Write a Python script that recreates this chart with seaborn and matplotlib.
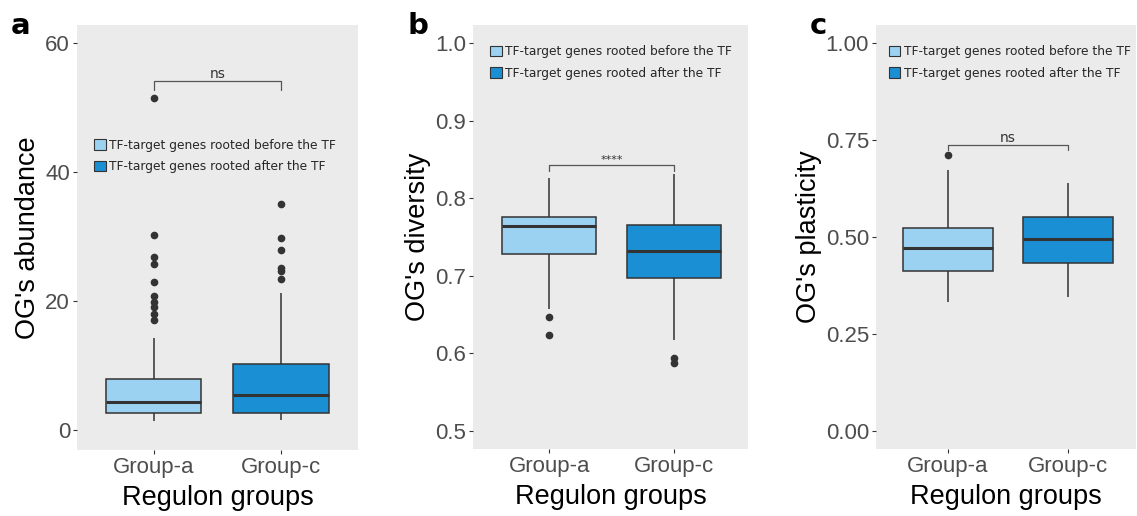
import seaborn as sns
import matplotlib.pyplot as plt
import pandas as pd

groups = ["Group-a", "Group-c"]
origins = ["TF-target genes rooted before the TF", "TF-target genes rooted after the TF"]
box_colors = ["#9CD2F1", "#1B8FD3"]

# box stats: whislo, q1, median, q3, whishi
abund_stats = [[1.4, 2.6, 4.3, 7.9, 14.2], [1.55, 2.7, 5.5, 10.2, 21.2]]
abund_out = [[51.5, 30.3, 26.8, 25.7, 22.9, 20.8, 19.8, 19.0, 18.0, 17.1],
             [35.0, 29.7, 27.9, 25.1, 24.7, 23.4]]
div_stats = [[0.658, 0.7285, 0.764, 0.776, 0.826], [0.618, 0.698, 0.732, 0.7655, 0.831]]
div_out = [[0.6465, 0.6237], [0.5937, 0.5872]]
plast_stats = [[0.332, 0.4125, 0.4725, 0.525, 0.673], [0.345, 0.434, 0.495, 0.551, 0.640]]
plast_out = [[0.711], []]

ylabels = ["OG's abundance", "OG's diversity", "OG's plasticity"]
yticks = [[0, 20, 40, 60], [0.5, 0.6, 0.7, 0.8, 0.9, 1.0], [0.0, 0.25, 0.5, 0.75, 1.0]]
yticklabels = [["0", "20", "40", "60"],
               ["0.5", "0.6", "0.7", "0.8", "0.9", "1.0"],
               ["0.00", "0.25", "0.50", "0.75", "1.00"]]
ylims = [(-3.1, 62.8), (0.4768, 1.0236), (-0.046, 1.047)]
sig_labels = ["ns", "****", "ns"]
sig_heights = [54.1, 0.843, 0.737]
sig_drop = [1.4, 0.008, 0.013]
panel_letters = ["a", "b", "c"]


def sample_from_stats(st, outs):
    # repeat the read quartiles so seaborn's boxplot reproduces them exactly
    whislo, q1, med, q3, whishi = st
    low = sorted([o for o in outs if o < q1]) + [whislo]
    high = [whishi] + sorted([o for o in outs if o > q3])
    k = len(low) + len(high) + 2
    vals = low + [q1] * (k + 1 - len(low)) + [med] * k + [q3] * k
    vals += [q3] * (k - len(high)) + high
    return vals


def build_frame(stats, outs):
    rows = []
    for g, o, st, ot in zip(groups, origins, stats, outs):
        for v in sample_from_stats(st, ot):
            rows.append({"group": g, "origin": o, "value": v})
    return pd.DataFrame(rows)


sns.set_theme(style="white")
plt.rcParams["font.family"] = ["Liberation Sans", "DejaVu Sans"]

fig = plt.figure(figsize=(11.37, 5.16), dpi=100)
positions = [[0.0677, 0.1279, 0.2471, 0.8236],
             [0.4160, 0.1298, 0.2419, 0.8217],
             [0.7705, 0.1298, 0.2287, 0.8217]]
xlims = [(-0.6, 1.6), (-0.61, 1.59), (-0.6, 1.567)]
legend_anchor = [(0.035, 0.75), (0.035, 0.97), (0.02, 0.97)]

data_sets = [(abund_stats, abund_out), (div_stats, div_out), (plast_stats, plast_out)]

for i, (stats, outs) in enumerate(data_sets):
    ax = fig.add_axes(positions[i])
    df = build_frame(stats, outs)
    sns.boxplot(data=df, x="group", y="value", hue="origin", hue_order=origins,
                order=groups, palette=box_colors, saturation=1, dodge=False, width=0.75,
                linewidth=1.1, linecolor="#333333", whis=1.5, showcaps=False,
                medianprops={"linewidth": 2.2, "color": "#333333"},
                flierprops={"marker": "o", "markersize": 4.5,
                            "markerfacecolor": "#333333", "markeredgecolor": "#333333"},
                ax=ax)
    ax.set_facecolor("#EBEBEB")
    for s in ax.spines.values():
        s.set_visible(False)
    ax.set_xlim(xlims[i])
    ax.set_ylim(ylims[i])
    ax.set_yticks(yticks[i])
    ax.set_yticklabels(yticklabels[i])
    ax.tick_params(axis="both", length=3, width=0.8, color="#333333",
                   labelcolor="#4D4D4D", labelsize=16, pad=2, left=True, bottom=True)
    ax.set_xlabel("Regulon groups", fontsize=19.5, color="black", labelpad=5)
    ax.set_ylabel(ylabels[i], fontsize=19.5, color="black", labelpad=3)

    # significance bracket
    h = sig_heights[i]
    d = sig_drop[i]
    ax.plot([0, 0, 1, 1], [h - d, h, h, h - d], color="#555555", lw=0.9)
    fs = 10 if sig_labels[i] == "ns" else 8
    ax.text(0.5, h, sig_labels[i], ha="center", va="bottom", fontsize=fs,
            color="#333333", family=["DejaVu Sans"])

    leg = ax.legend(loc="upper left", bbox_to_anchor=legend_anchor[i], frameon=False,
                    prop={"family": "DejaVu Sans", "size": 8.8}, handlelength=0.95,
                    handleheight=0.95, handletextpad=0.3, labelspacing=0.7,
                    borderaxespad=0.2)
    for p in leg.get_patches():
        p.set_edgecolor("#333333")
        p.set_linewidth(0.8)

    fig.text(positions[i][0] - 0.058, 0.935, panel_letters[i], fontsize=21,
             fontweight="bold", color="black", family=["DejaVu Sans"])

fig.savefig("out.png", dpi=100)
